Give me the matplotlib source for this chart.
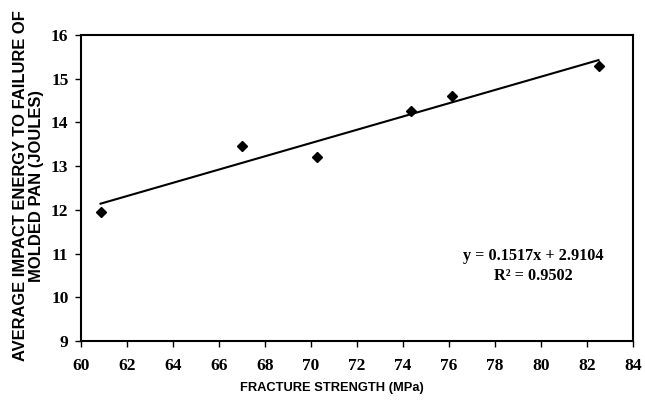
import numpy as np
import matplotlib.pyplot as plt

# data
strength = [60.85, 67.0, 70.25, 74.35, 76.15, 82.5]
energy = [11.95, 13.45, 13.22, 14.26, 14.6, 15.29]
slope, intercept = 0.1517, 2.9104

plt.rcParams['font.family'] = 'Liberation Serif'
plt.rcParams['font.weight'] = 'bold'

fig = plt.figure(figsize=(6.45, 4), dpi=100)
ax = fig.add_axes([0.1256, 0.1475, 0.8558, 0.765])

xs = np.array([min(strength), max(strength)])
ax.plot(xs, slope * xs + intercept, color='black', lw=1.5)
ax.plot(strength, energy, 'D', color='black', ms=5)

ax.set_xlim(60, 84)
ax.set_ylim(9, 16)
ax.set_xticks(range(60, 85, 2))
ax.set_yticks(range(9, 17))
for s in ax.spines.values():
    s.set_linewidth(1.5)
ax.tick_params(direction='out', length=4, width=1, labelsize=12.5)
ax.tick_params(axis='x', pad=8)
ax.tick_params(axis='y', pad=5)

ax.set_xlabel('FRACTURE STRENGTH (MPa)', family='Liberation Sans',
              fontweight='bold', fontsize=9.3)
ax.xaxis.set_label_coords(0.455, -0.135)
fig.text(0.0442, 0.535, 'AVERAGE IMPACT ENERGY TO FAILURE OF\nMOLDED PAN (JOULES)',
         rotation=90, ha='center', va='center', multialignment='center',
         family='Liberation Sans', fontweight='bold', fontsize=11.9,
         linespacing=1.15)

ax.text(0.819, 0.245, 'y = 0.1517x + 2.9104\nR² = 0.9502', transform=ax.transAxes,
        ha='center', va='center', multialignment='center', linespacing=1.3,
        fontsize=11.7)

fig.savefig('out.png', dpi=100)
